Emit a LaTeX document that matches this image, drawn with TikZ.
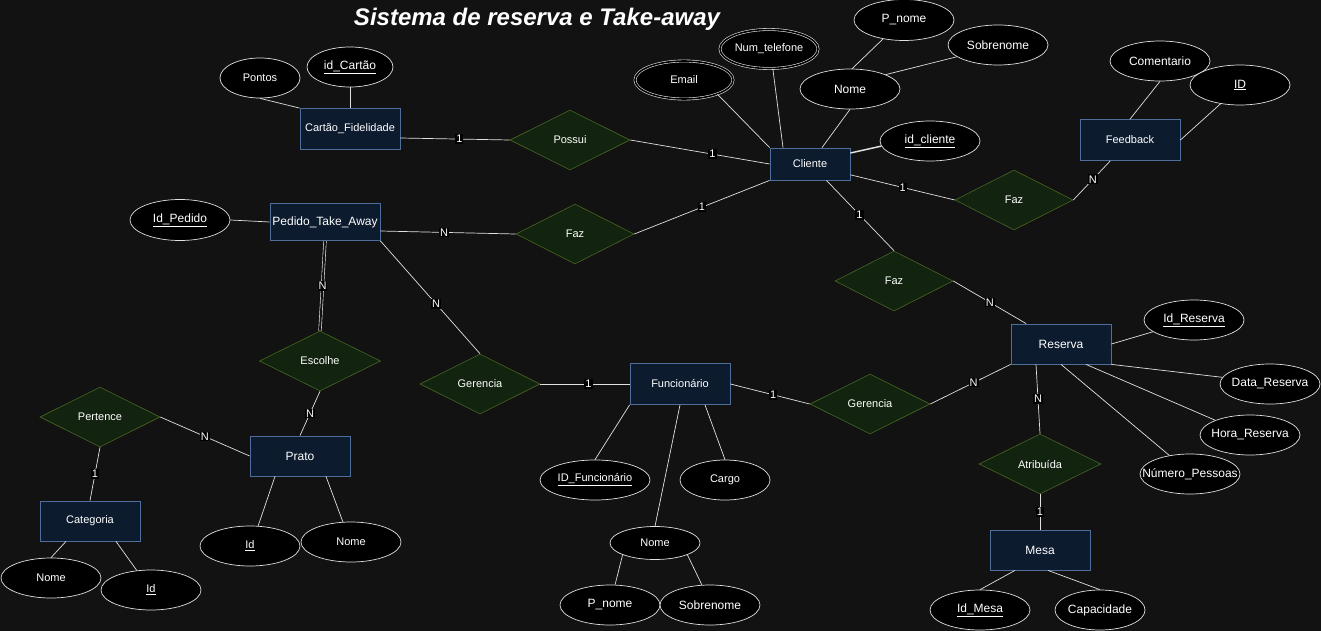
\documentclass[tikz,border=0pt]{standalone}
\usepackage{fontspec}
\setmainfont{Liberation Sans}
\usetikzlibrary{shapes.geometric,calc}
\definecolor{bg}{RGB}{18,18,18}
\definecolor{entfill}{RGB}{13,27,46}
\definecolor{entdraw}{RGB}{80,110,155}
\definecolor{relfill}{RGB}{18,35,15}
\definecolor{reldraw}{RGB}{72,102,32}
\definecolor{ln}{RGB}{225,225,225}
\newcommand\fA{\fontsize{11}{13}\selectfont}
\newcommand\fB{\fontsize{12}{14}\selectfont}
\newcommand\zb[1]{\makebox[0pt]{#1}}
\begin{document}
\begin{tikzpicture}[x=1pt,y=-1pt,
  ent/.style={draw=entdraw, fill=entfill, text=white, minimum width=100pt, minimum height=40pt, inner sep=0pt, font=\fA, line width=0.8pt},
  rel/.style={diamond, draw=reldraw, fill=relfill, text=white, minimum width=120pt, minimum height=60pt, inner sep=0pt, aspect=2, font=\fA, line width=0.6pt},
  attr/.style={ellipse, draw=ln, fill=black, text=white, minimum width=100pt, minimum height=40pt, inner sep=0pt, font=\fB, line width=0.7pt},
  mattr/.style={attr, double=black, double distance=1.6pt, line width=0.6pt},
  conn/.style={draw=ln, line width=0.7pt},
  card/.style={fill=black, text=white, inner sep=1pt, font=\fA},
]
\useasboundingbox (0,0) rectangle (1321,631);
\fill[bg] (0,0) rectangle (1321,631);

\node[text=white, font=\fontsize{24}{28}\selectfont\bfseries\itshape] (title) at (537,19) {Sistema de reserva e Take-away};

% entities
\node[ent, minimum height=41pt] (cf) at (350,129) {Cartão\_Fidelidade};
\node[ent, minimum width=80pt, minimum height=32pt] (cli) at (810,164) {Cliente};
\node[ent, minimum height=41pt] (fb) at (1130,140) {Feedback};
\node[ent, minimum width=110pt, minimum height=37pt, font=\fB] (ped) at (325,222) {Pedido\_Take\_Away};
\node[ent, font=\fB] (res) at (1061,344) {Reserva};
\node[ent, minimum height=41pt] (func) at (680,384) {Funcionário};
\node[ent, font=\fB] (prato) at (300,456) {Prato};
\node[ent] (cat) at (90,521) {Categoria};
\node[ent, font=\fB] (mesa) at (1040,550) {Mesa};

% relationships
\node[rel] (pos) at (570,140) {Possui};
\node[rel, minimum width=118pt] (fazp) at (575,234) {Faz};
\node[rel, minimum width=118pt] (fazf) at (1014,200) {Faz};
\node[rel, minimum width=118pt] (fazr) at (894,281) {Faz};
\node[rel, minimum width=121pt] (esc) at (320,361) {Escolhe};
\node[rel] (gerl) at (480,384) {Gerencia};
\node[rel] (gerr) at (870,404) {Gerencia};
\node[rel] (pert) at (100,417) {Pertence};
\node[rel, minimum width=122pt] (atr) at (1040,464) {Atribuída};

% attributes
\node[attr, minimum width=80pt, font=\fA] (pontos) at (260,78) {\zb{Pontos}};
\node[attr, minimum width=86pt] (idc) at (350,67) {\zb{\underline{id\_Cartão}}};
\node[mattr, minimum width=98pt, minimum height=38pt, font=\fA] (email) at (684,80) {\zb{Email}};
\node[mattr, minimum width=98pt, minimum height=39pt, font=\fA] (numt) at (769,49) {\zb{Num\_telefone}};
\node[attr, minimum height=41pt] (pnc) at (904,20) {\zb{P\_nome}};
\node[attr] (sbc) at (998,45) {\zb{Sobrenome}};
\node[attr] (nomec) at (850,89) {\zb{Nome}};
\node[attr] (idcl) at (930,141) {\zb{\underline{id\_cliente}}};
\node[attr] (coment) at (1160,61) {\zb{Comentario}};
\node[attr] (idfb) at (1240,85) {\zb{\underline{ID}}};
\node[attr, minimum height=41pt] (idp) at (180,220) {\zb{\underline{Id\_Pedido}}};
\node[attr] (idr) at (1194,320) {\zb{\underline{Id\_Reserva}}};
\node[attr] (dr) at (1270,384) {\zb{Data\_Reserva}};
\node[attr] (hr) at (1250,435) {\zb{Hora\_Reserva}};
\node[attr] (np) at (1190,474) {\zb{Número\_Pessoas}};
\node[attr] (idm) at (980,610) {\zb{\underline{Id\_Mesa}}};
\node[attr, minimum width=90pt] (cap) at (1100,610) {\zb{Capacidade}};
\node[attr, minimum width=110pt, font=\fA] (idfu) at (595,480) {\zb{\underline{ID\_Funcionário}}};
\node[attr, minimum width=90pt, font=\fA] (cargo) at (725,480) {\zb{Cargo}};
\node[attr, minimum width=90pt, minimum height=33pt, font=\fA] (nomef) at (655,543) {\zb{Nome}};
\node[attr] (pnf) at (610,605) {\zb{P\_nome}};
\node[attr] (sbf) at (710,605) {\zb{Sobrenome}};
\node[attr, font=\fA] (pid) at (250,546) {\zb{\underline{Id}}};
\node[attr, font=\fA] (pnm) at (351,542) {\zb{Nome}};
\node[attr, font=\fA] (cnm) at (51,578) {\zb{Nome}};
\node[attr, font=\fA] (cid) at (151,590) {\zb{\underline{Id}}};

% attribute connectors
\draw[conn] (pontos.south) -- (cf.north west);
\draw[conn] (idc.south) -- (cf.north);
\draw[conn] (email.-23) -- (cli.north west);
\draw[conn] (numt.-79) -- ($(cli.north)+(-27,0)$);
\draw[conn] (nomec.south) -- ($(cli.north)+(12,0)$);
\draw[conn] (pnc.222) -- (nomec.84);
\draw[conn] (sbc.196) -- (nomec.22);
\draw[conn, line width=1.5pt] (idcl.186) -- ($(cli.east)+(0,-11)$);
\draw[conn] (coment.south) -- (fb.north);
\draw[conn] (idfb.224) -- (fb.east);
\draw[conn] (idp.east) -- (ped.west);
\draw[conn] (func.south west) -- (idfu.north);
\draw[conn] (func.south) -- (nomef.north);
\draw[conn] ($(func.south)+(25,0)$) -- (cargo.north);
\draw[conn] (nomef.200) -- (pnf.76);
\draw[conn] (nomef.-20) -- (sbf.112);
\draw[conn] ($(prato.south)+(-25,0)$) -- (pid.68);
\draw[conn] ($(prato.south)+(26,0)$) -- (pnm.112);
\draw[conn] ($(cat.south)+(-24,0)$) -- (cnm.north);
\draw[conn] ($(cat.south)+(26,0)$) -- (cid.126);
\draw[conn] (res.east) -- (idr.196);
\draw[conn] (res.south east) -- (dr.172);
\draw[conn] ($(res.south)+(25,0)$) -- (hr.157);
\draw[conn] (res.south) -- (np.138);
\draw[conn] ($(mesa.south)+(-25,0)$) -- (idm.north);
\draw[conn] ($(mesa.south)+(8,0)$) -- (cap.north);

% relationship connectors
\draw[conn] ($(cf.east)+(0,9)$) -- node[card,pos=0.54]{1} (pos.west);
\draw[conn] (pos.east) -- node[card,pos=0.59]{1} (cli.west);
\draw[conn] ($(ped.east)+(0,9)$) -- node[card,pos=0.47]{N} (fazp.west);
\draw[conn] (fazp.east) -- node[card,pos=0.5]{1} (cli.south west);
\draw[conn] (cli.-15) -- node[card,pos=0.5]{1} (fazf.west);
\draw[conn] (fazf.east) -- node[card,pos=0.53]{N} (fb);
\draw[conn] (cli.-45) -- node[card,pos=0.49]{1} (fazr.north);
\draw[conn] (fazr.east) -- node[card,pos=0.5]{N} (res);
\draw[conn, double=bg, double distance=2pt, line width=0.6pt] (ped.south) -- node[card,pos=0.5]{N} (esc.north);
\draw[conn] (esc.south) -- node[card,pos=0.5]{N} (prato.north);
\draw[conn] (ped.south east) -- node[card,pos=0.56]{N} (gerl.north);
\draw[conn] (gerl.east) -- node[card,pos=0.54]{1} (func.west);
\draw[conn] (func.east) -- node[card,pos=0.54]{1} (gerr.west);
\draw[conn] (gerr.east) -- node[card,pos=0.54]{N} (res.south west);
\draw[conn] ($(res.south)+(-25,0)$) -- node[card,pos=0.5]{N} (atr.north);
\draw[conn] (atr.south) -- node[card,pos=0.5]{1} (mesa.north);
\draw[conn] (pert.east) -- node[card,pos=0.5]{N} (prato.west);
\draw[conn] (pert.south) -- node[card,pos=0.5]{1} (cat.north);
\end{tikzpicture}
\end{document}
